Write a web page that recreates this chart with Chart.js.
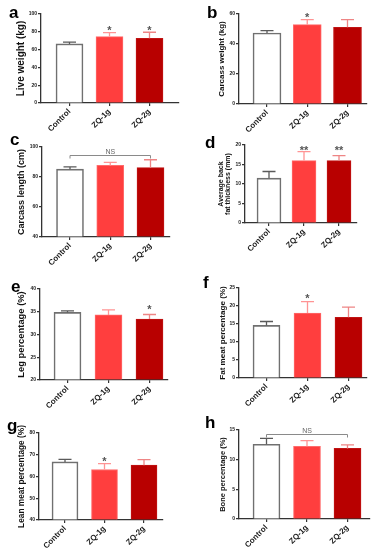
<!DOCTYPE html>
<html>
<head>
<meta charset="utf-8">
<script src="https://cdn.jsdelivr.net/npm/chart.js@4.4.0/dist/chart.umd.min.js"></script>
<style>
  html, body { margin: 0; padding: 0; background: #fff; }
  #fig { position: relative; width: 379px; height: 550px; overflow: hidden; }
  canvas { position: absolute; }
</style>
</head>
<body>
<div id="fig"></div>
<script>
const groups = ['Control', 'ZQ-1g', 'ZQ-2g'];

// means and upper SD
const liveWeight = [66.4, 74.6, 72.8];
const liveWeightSd = [1.9, 4.4, 6.7];
const liveWeightSig = ['', '*', '*'];

const carcassWeight = [47.3, 52.9, 51.1];
const carcassWeightSd = [1.6, 3.3, 5.1];
const carcassWeightSig = ['', '*', ''];

const carcassLength = [85.2, 87.7, 86.3];
const carcassLengthSd = [1.6, 2.0, 5.2];
const carcassLengthSig = ['', '', ''];
const carcassLengthNs = 94.7;

const backFat = [11.5, 16.0, 16.0];
const backFatSd = [1.7, 2.3, 1.3];
const backFatSig = ['', '**', '**'];

const legPct = [34.85, 34.3, 33.4];
const legPctSd = [0.35, 1.1, 1.0];
const legPctSig = ['', '', '*'];

const fatMeatPct = [14.6, 18.05, 16.85];
const fatMeatPctSd = [1.1, 3.15, 2.85];
const fatMeatPctSig = ['', '*', ''];

const leanMeatPct = [66.7, 63.2, 65.2];
const leanMeatPctSd = [1.2, 2.75, 2.6];
const leanMeatPctSig = ['', '*', ''];

const bonePct = [12.6, 12.26, 11.9];
const bonePctSd = [1.0, 0.95, 0.6];
const bonePctSig = ['', '', ''];
const bonePctNs = 14.3;

const FONT = "'Liberation Sans', Arial, sans-serif";
const FILL = ['#ffffff', '#ff3e3e', '#b80000'];
const EDGE = ['#707070', '#ff6b6b', '#c01414'];
const ERR = ['#5a5a5a', '#ff9494', '#ee8585'];

const panels = [
  { letter: 'a', box: [0, 0, 190, 140], plot: [41, 14, 179, 103], c0: 69.5, step: 40, bar: 27, lx: 9, ly: 18,
    title: 'Live weight (kg)', tSize: 10, tX: 21, yMin: 0, yMax: 100, yStep: 20,
    values: liveWeight, sd: liveWeightSd, sig: liveWeightSig, starGap: 3 },
  { letter: 'b', box: [190, 0, 189, 140], plot: [239, 14, 367, 104], c0: 267, step: 40.25, bar: 28, lx: 207, ly: 18,
    title: 'Carcass weight (kg)', tSize: 8, tX: 221.5, yMin: 0, yMax: 60, yStep: 20,
    values: carcassWeight, sd: carcassWeightSd, sig: carcassWeightSig, starGap: 3 },
  { letter: 'c', box: [0, 130, 190, 150], plot: [42, 147, 170, 237], c0: 70, step: 40.25, bar: 27, lx: 10, ly: 145,
    title: 'Carcass length (cm)', tSize: 9, tX: 21.5, yMin: 40, yMax: 100, yStep: 20,
    values: carcassLength, sd: carcassLengthSd, sig: carcassLengthSig, ns: carcassLengthNs },
  { letter: 'd', box: [190, 130, 189, 150], plot: [245, 145, 357, 223], c0: 269, step: 35, bar: 24, lx: 205, ly: 148,
    title: ['Average back', 'fat thickness (mm)'], tSize: 7, tLine: 1.0, tX: 221, yMin: 0, yMax: 20, yStep: 5,
    values: backFat, sd: backFatSd, sig: backFatSig, starGap: 2.5 },
  { letter: 'e', box: [0, 270, 190, 150], plot: [40, 289, 168, 380], c0: 67.5, step: 41, bar: 27, lx: 11, ly: 292,
    title: 'Leg percentage (%)', tSize: 9.4, tX: 21.5, yMin: 20, yMax: 40, yStep: 5,
    values: legPct, sd: legPctSd, sig: legPctSig, starGap: 6 },
  { letter: 'f', box: [190, 270, 189, 150], plot: [239, 288, 367, 378], c0: 266.5, step: 41, bar: 27, lx: 203, ly: 288,
    title: 'Fat meat percentage (%)', tSize: 8.1, tX: 222.5, yMin: 0, yMax: 25, yStep: 5,
    values: fatMeatPct, sd: fatMeatPctSd, sig: fatMeatPctSig, starGap: 4 },
  { letter: 'g', box: [0, 410, 190, 140], plot: [39, 433, 163, 520], c0: 65, step: 39.5, bar: 26, lx: 7, ly: 431,
    title: 'Lean meat percentage (%)', tSize: 8.3, tX: 21.5, yMin: 40, yMax: 80, yStep: 10,
    values: leanMeatPct, sd: leanMeatPctSd, sig: leanMeatPctSig, starGap: 3 },
  { letter: 'h', box: [190, 410, 189, 140], plot: [239, 430, 370, 519], c0: 266.5, step: 40.5, bar: 27, lx: 205, ly: 428,
    title: 'Bone percentage (%)', tSize: 7.5, tX: 222.5, yMin: 0, yMax: 15, yStep: 5,
    values: bonePct, sd: bonePctSd, sig: bonePctSig, ns: bonePctNs },
];

const marks = {
  id: 'marks',
  afterDatasetsDraw(chart, args, p) {
    const { ctx } = chart;
    const x = chart.scales.x;
    const y = chart.scales.y;
    ctx.save();
    // error bars, upper side only
    p.values.forEach((v, i) => {
      const px = x.getPixelForValue(i);
      const top = y.getPixelForValue(v + p.sd[i]);
      const base = y.getPixelForValue(v);
      ctx.strokeStyle = ERR[i];
      ctx.lineWidth = 1.3;
      ctx.beginPath();
      ctx.moveTo(px, base);
      ctx.lineTo(px, top);
      ctx.moveTo(px - 6.5, top);
      ctx.lineTo(px + 6.5, top);
      ctx.stroke();
    });
    // significance stars, on one line above the highest starred bar
    const starred = p.sig.map((s, i) => (s ? y.getPixelForValue(p.values[i] + p.sd[i]) : Infinity));
    const hi = Math.min(...starred);
    if (hi !== Infinity) {
      ctx.fillStyle = '#555';
      ctx.font = `bold 11px ${FONT}`;
      ctx.textAlign = 'center';
      ctx.textBaseline = 'alphabetic';
      p.sig.forEach((s, i) => {
        if (s) ctx.fillText(s, x.getPixelForValue(i), hi - p.starGap + 4.5);
      });
    }
    // NS bracket from Control to ZQ-2g
    if (p.ns !== undefined) {
      const yy = Math.round(y.getPixelForValue(p.ns)) + 0.5;
      const x0 = x.getPixelForValue(0);
      const x2 = x.getPixelForValue(2);
      ctx.strokeStyle = '#8a8a8a';
      ctx.lineWidth = 1;
      ctx.beginPath();
      ctx.moveTo(x0, yy + 3);
      ctx.lineTo(x0, yy);
      ctx.lineTo(x2, yy);
      ctx.lineTo(x2, yy + 3);
      ctx.stroke();
      ctx.fillStyle = '#666';
      ctx.font = `7px ${FONT}`;
      ctx.textAlign = 'center';
      ctx.fillText('NS', (x0 + x2) / 2, yy - 2);
    }
    ctx.restore();
  },
  afterDraw(chart, args, p) {
    const { ctx } = chart;
    ctx.save();
    ctx.fillStyle = '#000';
    ctx.font = `bold 17px ${FONT}`;
    ctx.textAlign = 'left';
    ctx.textBaseline = 'alphabetic';
    ctx.fillText(p.letter, p.lx - p.box[0], p.ly - p.box[1]);
    ctx.restore();
  },
};

const fig = document.getElementById('fig');

panels.forEach((p) => {
  const [cx, cy, cw, ch] = p.box;
  const [l, t, r, b] = p.plot;
  const canvas = document.createElement('canvas');
  canvas.width = cw;
  canvas.height = ch;
  canvas.style.left = cx + 'px';
  canvas.style.top = cy + 'px';
  fig.appendChild(canvas);

  const lineH = p.tLine || 1.2;
  const padLeft = p.tX - cx - (p.tSize * lineH) / 2;
  const xMin = -(p.c0 - l) / p.step;
  const xMax = 2 + (r - (p.c0 + 2 * p.step)) / p.step;

  new Chart(canvas, {
    type: 'bar',
    data: {
      datasets: [{
        data: p.values.map((v, i) => ({ x: i, y: v })),
        backgroundColor: FILL,
        borderColor: EDGE,
        borderWidth: [1.6, 1, 1],
        borderSkipped: 'bottom',
        barThickness: p.bar,
        base: p.yMin,
      }],
    },
    options: {
      responsive: false,
      animation: false,
      devicePixelRatio: 1,
      layout: { padding: { left: padLeft, top: t - cy, right: cx + cw - r, bottom: 0 } },
      plugins: { legend: { display: false }, tooltip: { enabled: false }, marks: p },
      scales: {
        x: {
          type: 'linear',
          min: xMin,
          max: xMax,
          offset: false,
          afterBuildTicks: (s) => { s.ticks = [0, 1, 2].map((v) => ({ value: v })); },
          afterFit: (s) => { s.height = cy + ch - b; },
          border: { display: true, color: '#333', width: 1.3 },
          grid: { offset: false, drawOnChartArea: false, drawTicks: true, tickLength: 3, color: '#333', lineWidth: 1.2 },
          ticks: {
            autoSkip: false,
            minRotation: 45,
            maxRotation: 45,
            padding: 1,
            color: '#1a1a1a',
            font: { family: FONT, size: 8, weight: 'bold' },
            callback: (v) => groups[v],
          },
        },
        y: {
          min: p.yMin,
          max: p.yMax,
          afterFit: (s) => { s.width = l - cx - padLeft; },
          border: { display: true, color: '#333', width: 1.3 },
          grid: { drawOnChartArea: false, drawTicks: true, tickLength: 3, color: '#333', lineWidth: 1.2 },
          ticks: {
            stepSize: p.yStep,
            padding: 1,
            color: '#1a1a1a',
            font: { family: FONT, size: 5, weight: 'bold' },
          },
          title: {
            display: true,
            text: p.title,
            color: '#111',
            padding: 0,
            font: { family: FONT, size: p.tSize, weight: 'bold', lineHeight: lineH },
          },
        },
      },
    },
    plugins: [marks],
  });
});
</script>
</body>
</html>
